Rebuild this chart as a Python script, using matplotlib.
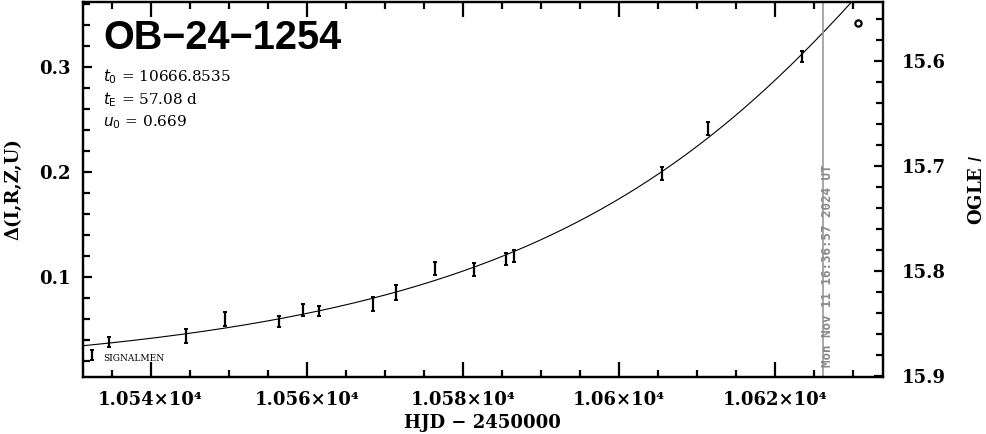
import numpy as np
import matplotlib
matplotlib.use("Agg")
import matplotlib.pyplot as plt
from matplotlib.ticker import MultipleLocator, FixedLocator, FixedFormatter

# ---- data ----
hjd = [10534.7, 10544.5, 10549.5, 10556.4, 10559.5, 10561.6, 10568.5, 10571.5,
       10576.4, 10581.5, 10585.6, 10586.6, 10605.5, 10611.5, 10623.5]
delta = [0.038, 0.0435, 0.0594, 0.0571, 0.0683, 0.0673, 0.074, 0.0848,
         0.108, 0.107, 0.1166, 0.1197, 0.1985, 0.2413, 0.310]
err = [0.005, 0.0067, 0.0067, 0.0054, 0.006, 0.005, 0.0063, 0.007,
       0.0063, 0.006, 0.0057, 0.006, 0.006, 0.006, 0.0052]
ogle_hjd = [10630.7]
ogle_delta = [0.3413]

t0 = 10666.8535
tE = 57.08
u0 = 0.669
I_base = 15.905
now_hjd = 10626.19

xticks = [10540, 10560, 10580, 10600, 10620]
xticklabels = ["1.054×10⁴", "1.056×10⁴", "1.058×10⁴", "1.06×10⁴", "1.062×10⁴"]

# ---- figure ----
fig = plt.figure(figsize=(9.86, 4.34), dpi=100)
ax = fig.add_axes([82.7/986, 1-376.7/434, (882.5-82.7)/986, (376.7-2)/434])

XMIN, XMAX = 10531.3, 10633.8
YMIN, YMAX = 0.0048, 0.3616

tt = np.linspace(XMIN, XMAX, 600)
u = np.sqrt(u0**2 + ((tt - t0)/tE)**2)
A = (u**2 + 2)/(u*np.sqrt(u**2 + 4))
ax.plot(tt, 2.5*np.log10(A), color="black", lw=0.8)

ax.errorbar(hjd, delta, yerr=err, fmt='none', ecolor='black', elinewidth=1.6,
            capsize=1.5, capthick=1.4)
ax.plot(ogle_hjd, ogle_delta, 'o', mfc='none', mec='black', mew=1.6, ms=4.5)

ax.axvline(now_hjd, color='#999999', lw=1.2)
ax.text(now_hjd + 0.6, 0.0145, "Mon Nov 11 16:36:57 2024 UT", rotation=90,
        ha='center', va='bottom', color='#888888', fontsize=9.0,
        family='DejaVu Sans Mono', fontweight='bold')

# legend marker
ax.errorbar([10532.5], [0.0255], yerr=[0.005], fmt='none', ecolor='black',
            elinewidth=1.6, capsize=1.5, capthick=1.4)
ax.text(10533.9, 0.0225, "SIGNALMEN", fontsize=6.5, family='DejaVu Serif',
        va='center', ha='left')

ax.text(10534.0, 0.3275, "OB−24−1254", fontsize=28.5,
        family=['Liberation Sans', 'DejaVu Sans'],
        fontweight='bold', va='center', ha='left')
ax.text(10533.9, 0.2905, r"$t_0$ = 10666.8535", fontsize=11, family='DejaVu Serif', va='center')
ax.text(10533.9, 0.2685, r"$t_{\rm E}$ = 57.08 d", fontsize=11, family='DejaVu Serif', va='center')
ax.text(10533.9, 0.2475, r"$u_0$ = 0.669", fontsize=11, family='DejaVu Serif', va='center')

ax.set_xlim(XMIN, XMAX)
ax.set_ylim(YMIN, YMAX)

ax.xaxis.set_major_locator(FixedLocator(xticks))
ax.xaxis.set_major_formatter(FixedFormatter(xticklabels))
ax.xaxis.set_minor_locator(MultipleLocator(5))
ax.yaxis.set_major_locator(MultipleLocator(0.1))
ax.yaxis.set_minor_locator(MultipleLocator(0.02))
ax.yaxis.set_major_formatter(matplotlib.ticker.FormatStrFormatter('%.1f'))

for s in ax.spines.values():
    s.set_linewidth(1.6)

ax.tick_params(axis='x', which='major', direction='in', length=10.5, width=1.6,
               top=True, labelsize=13, pad=10)
ax.tick_params(axis='x', which='minor', direction='in', length=5, width=1.6, top=True)
ax.tick_params(axis='y', which='major', direction='in', length=6.5, width=1.6,
               right=False, labelsize=13, pad=9)
ax.tick_params(axis='y', which='minor', direction='in', length=5, width=1.6, right=False)
for lab in ax.get_xticklabels() + ax.get_yticklabels():
    lab.set_family('DejaVu Serif')
    lab.set_fontweight('bold')

ax.set_xlabel("HJD − 2450000", fontsize=13, family='DejaVu Serif',
              fontweight='bold', labelpad=4)
ax.set_ylabel("Δ(I,R,Z,U)", fontsize=13, family='DejaVu Serif',
              fontweight='bold', labelpad=12)

ax2 = ax.twinx()
ax2.set_ylim(I_base - YMIN, I_base - YMAX)
ax2.yaxis.set_major_locator(MultipleLocator(0.1))
ax2.yaxis.set_minor_locator(MultipleLocator(0.02))
ax2.yaxis.set_major_formatter(matplotlib.ticker.FormatStrFormatter('%.1f'))
ax2.tick_params(axis='y', which='major', direction='in', length=6.5, width=1.6,
                labelsize=13, pad=14)
ax2.tick_params(axis='y', which='minor', direction='in', length=5, width=1.6)
for lab in ax2.get_yticklabels():
    lab.set_family('DejaVu Serif')
    lab.set_fontweight('bold')
for s in ax2.spines.values():
    s.set_linewidth(1.6)
ax2.set_ylabel(r"OGLE $\mathit{I}$", fontsize=13, family='DejaVu Serif',
               fontweight='bold', labelpad=6)
ax2.yaxis.set_label_coords((968 - 82.7)/(882.5 - 82.7), 0.5)

fig.savefig("out.png", dpi=100)
